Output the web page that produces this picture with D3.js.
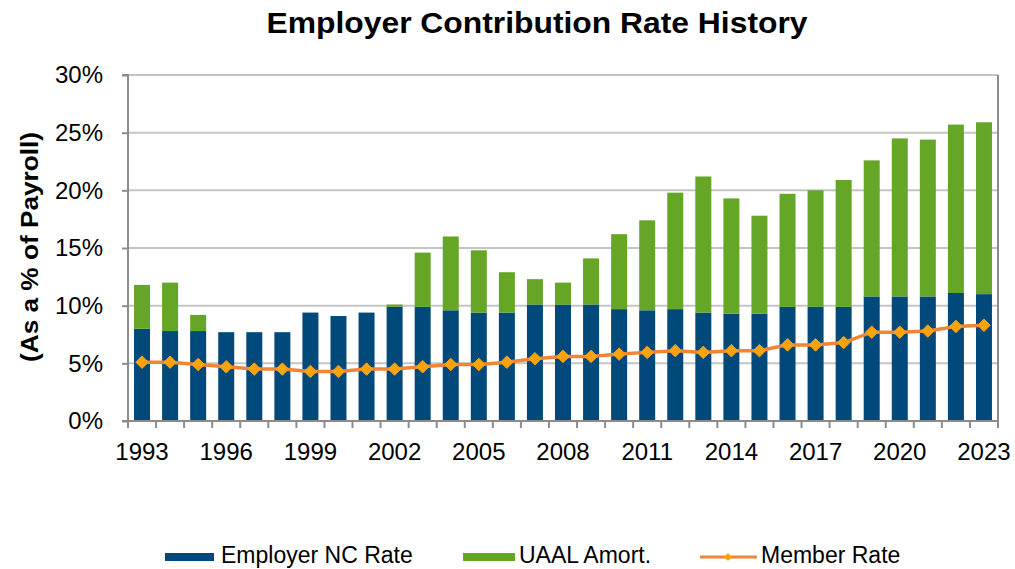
<!doctype html>
<html>
<head>
    <script src="https://cdnjs.cloudflare.com/ajax/libs/d3/7.8.5/d3.min.js"></script>
    <style>
        body { margin: 0; background: #fff; }
        text { font-family: "Liberation Sans", Arial, sans-serif; fill: #000; }
        .grid line { stroke: #c4c4c4; stroke-width: 2; }
        .axis path, .axis line { stroke: #8c8c8c; stroke-width: 2; }
    </style>
</head>
<body>
<script>
    // chart data
    var years = ["1993", "1994", "1995", "1996", "1997", "1998", "1999", "2000", "2001", "2002",
                 "2003", "2004", "2005", "2006", "2007", "2008", "2009", "2010", "2011", "2012",
                 "2013", "2014", "2015", "2016", "2017", "2018", "2019", "2020", "2021", "2022", "2023"];
    var employerNC = [8.0, 7.8, 7.8, 7.7, 7.7, 7.7, 9.4, 9.1, 9.4, 9.9,
                      9.9, 9.6, 9.4, 9.4, 10.1, 10.1, 10.1, 9.7, 9.6, 9.7,
                      9.4, 9.3, 9.3, 9.9, 9.9, 9.9, 10.8, 10.8, 10.8, 11.1, 11.0];
    var uaalAmort = [3.8, 4.2, 1.4, 0, 0, 0, 0, 0, 0, 0.2,
                     4.7, 6.4, 5.4, 3.5, 2.2, 1.9, 4.0, 6.5, 7.8, 10.1,
                     11.8, 10.0, 8.5, 9.8, 10.1, 11.0, 11.8, 13.7, 13.6, 14.6, 14.9];
    var memberRate = [5.1, 5.1, 4.9, 4.7, 4.5, 4.5, 4.3, 4.3, 4.5, 4.5,
                      4.7, 4.9, 4.9, 5.1, 5.4, 5.6, 5.6, 5.8, 5.95, 6.1,
                      5.95, 6.1, 6.1, 6.6, 6.6, 6.8, 7.7, 7.7, 7.8, 8.2, 8.3];
    var yTicks = [0, 5, 10, 15, 20, 25, 30];
    var xLabels = ["1993", "1996", "1999", "2002", "2005", "2008", "2011", "2014", "2017", "2020", "2023"];
    var seriesNames = ["Employer NC Rate", "UAAL Amort.", "Member Rate"];

    var colors = { nc: "#00497a", uaal: "#66a627", line: "#ef8535", marker: "#ffa30a" };

    var width = 1015, height = 569;
    var plot = { left: 128, right: 998, top: 75, bottom: 421 };

    var svg = d3.select("body").append("svg")
        .attr("width", width)
        .attr("height", height);

    var rows = years.map(function(y, i) {
        return { year: y, nc: employerNC[i], uaal: uaalAmort[i], member: memberRate[i] };
    });

    var x = d3.scaleBand()
        .domain(years)
        .range([plot.left, plot.right])
        .paddingInner(0.43)
        .paddingOuter(0.215);

    var y = d3.scaleLinear()
        .domain([0, 30])
        .range([plot.bottom, plot.top]);

    // gridlines
    svg.append("g")
        .attr("class", "grid")
        .selectAll("line")
        .data(yTicks.slice(1))
        .enter().append("line")
        .attr("x1", plot.left).attr("x2", plot.right)
        .attr("y1", function(d) { return y(d); })
        .attr("y2", function(d) { return y(d); });

    // right border
    svg.append("line")
        .attr("x1", plot.right).attr("x2", plot.right)
        .attr("y1", plot.top).attr("y2", plot.bottom)
        .attr("stroke", "#8c8c8c").attr("stroke-width", 2);

    // stacked bars
    var stack = d3.stack().keys(["nc", "uaal"]);
    var layers = stack(rows);
    svg.append("g").selectAll("g")
        .data(layers)
        .enter().append("g")
        .attr("fill", function(d) { return colors[d.key]; })
        .selectAll("rect")
        .data(function(d) { return d; })
        .enter().append("rect")
        .attr("x", function(d) { return x(d.data.year); })
        .attr("width", x.bandwidth())
        .attr("y", function(d) { return y(d[1]); })
        .attr("height", function(d) { return y(d[0]) - y(d[1]); });

    // y axis
    var yAxis = d3.axisLeft(y)
        .tickValues(yTicks)
        .tickSize(6)
        .tickPadding(19)
        .tickFormat(function(d) { return d + "%"; });
    var gy = svg.append("g")
        .attr("class", "axis")
        .attr("transform", "translate(" + plot.left + ",0)")
        .call(yAxis);
    gy.select(".domain").attr("d", "M-6," + plot.bottom + "H0V" + plot.top + "H-6");
    gy.selectAll("text")
        .style("font-size", "24px")
        .style("font-family", "'Liberation Sans', Arial, sans-serif")
        .attr("fill", "#000");

    // x axis: ticks at band edges, labels every third year
    var edges = d3.range(years.length + 1).map(function(i) {
        return plot.left + i * (plot.right - plot.left) / years.length;
    });
    var gx = svg.append("g").attr("class", "axis");
    gx.append("line")
        .attr("x1", plot.left).attr("x2", plot.right)
        .attr("y1", plot.bottom).attr("y2", plot.bottom);
    gx.selectAll(".tick")
        .data(edges)
        .enter().append("line")
        .attr("x1", function(d) { return d; }).attr("x2", function(d) { return d; })
        .attr("y1", plot.bottom).attr("y2", plot.bottom + 7);
    gx.selectAll("text")
        .data(xLabels)
        .enter().append("text")
        .attr("x", function(d) { return x(d) + x.bandwidth() / 2; })
        .attr("y", 460)
        .attr("text-anchor", "middle")
        .style("font-size", "24px")
        .text(function(d) { return d; });

    // member rate line
    var line = d3.line()
        .x(function(d) { return x(d.year) + x.bandwidth() / 2; })
        .y(function(d) { return y(d.member); });
    svg.append("path")
        .datum(rows)
        .attr("fill", "none")
        .attr("stroke", colors.line)
        .attr("stroke-width", 3.5)
        .attr("d", line);

    var diamond = d3.symbol().type(d3.symbolDiamond2).size(100);
    svg.append("g").selectAll("path")
        .data(rows)
        .enter().append("path")
        .attr("d", diamond)
        .attr("transform", function(d) {
            return "translate(" + (x(d.year) + x.bandwidth() / 2) + "," + y(d.member) + ")";
        })
        .attr("fill", colors.marker)
        .attr("stroke", "#f7a21a")
        .attr("stroke-width", 1);

    // title
    svg.append("text")
        .attr("x", 537)
        .attr("y", 33)
        .attr("text-anchor", "middle")
        .style("font-size", "29px")
        .style("font-weight", "bold")
        .attr("textLength", 541)
        .attr("lengthAdjust", "spacingAndGlyphs")
        .text("Employer Contribution Rate History");

    // y axis title
    svg.append("text")
        .attr("transform", "translate(38,247) rotate(-90)")
        .attr("text-anchor", "middle")
        .style("font-size", "23px")
        .style("font-weight", "bold")
        .attr("textLength", 230)
        .attr("lengthAdjust", "spacingAndGlyphs")
        .text("(As a % of Payroll)");

    // legend
    var legend = svg.append("g").style("font-size", "23px");
    var lg0 = legend.append("g");
    lg0.append("rect").attr("x", 165).attr("y", 553).attr("width", 49).attr("height", 8).attr("fill", colors.nc);
    lg0.append("text").attr("x", 221).attr("y", 563).text(seriesNames[0]);

    var lg1 = legend.append("g");
    lg1.append("rect").attr("x", 463).attr("y", 553).attr("width", 52).attr("height", 8).attr("fill", colors.uaal);
    lg1.append("text").attr("x", 519).attr("y", 563).text(seriesNames[1]);

    var lg2 = legend.append("g");
    lg2.append("line").attr("x1", 700).attr("x2", 757).attr("y1", 557).attr("y2", 557)
        .attr("stroke", colors.line).attr("stroke-width", 3);
    lg2.append("path").attr("d", d3.symbol().type(d3.symbolDiamond2).size(40))
        .attr("transform", "translate(728,557)")
        .attr("fill", colors.marker);
    lg2.append("text").attr("x", 761).attr("y", 563).text(seriesNames[2]);
</script>
</body>
</html>
